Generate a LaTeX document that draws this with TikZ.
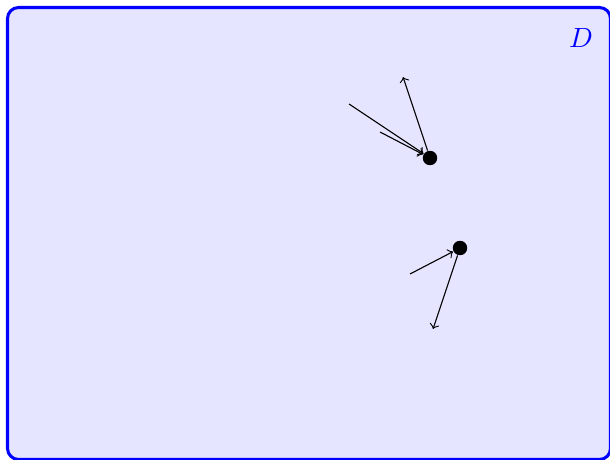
\documentclass[tikz,border=0pt]{standalone}
\begin{document}
\begin{tikzpicture}[x=0.36pt,y=-0.36pt]
\tikzset{dot/.style={circle,fill=black,inner sep=0pt,minimum size=5.2pt}}
\useasboundingbox (0,0) rectangle (610,460);
\draw[blue, line width=1.1pt, fill=blue!10, rounded corners=4pt] (7.5,7.5) rectangle (610.5,459.5);
\node[blue] (lab) at (581,38) {$D$};

\node[dot] (p1) at (430,158) {};
\node[dot] (p2) at (460,248) {};

\coordinate (a1) at (349,104);
\coordinate (a2) at (380,132);
\coordinate (a3) at (403,77);
\coordinate (b1) at (410,274);
\coordinate (b2) at (433,329);

\draw[->] (a1) -- (p1);
\draw[->] (a2) -- (p1);
\draw[->] (p1) -- (a3);
\draw[->] (b1) -- (p2);
\draw[->] (p2) -- (b2);
\end{tikzpicture}
\end{document}
